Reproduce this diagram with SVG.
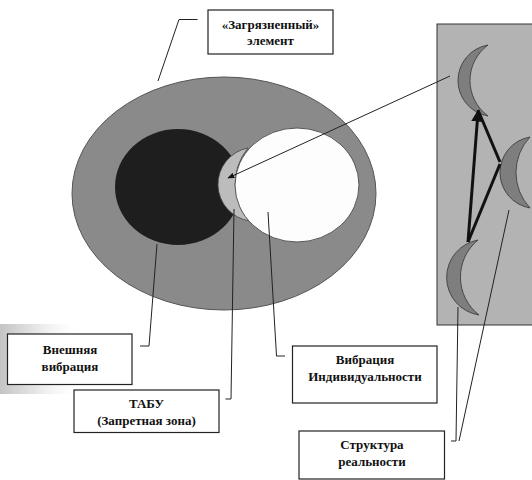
<svg xmlns="http://www.w3.org/2000/svg" width="532" height="480" viewBox="0 0 532 480">
<defs>
<style>
.box{fill:#fff;stroke:#222;stroke-width:1.2}
text{font-family:'Liberation Serif','DejaVu Serif',serif;font-weight:bold;font-size:13px;fill:#111;text-anchor:middle}
.lead{fill:none;stroke:#222;stroke-width:1}
.cres{fill:#7e7e7e;stroke:#333;stroke-width:0.8}
</style>
<marker id="ah" viewBox="0 0 10 10" refX="9" refY="5" markerWidth="7" markerHeight="7" orient="auto" markerUnits="userSpaceOnUse">
<path d="M0,1 L10,5 L0,9 Z" fill="#111"/>
</marker>
<marker id="ah2" viewBox="0 0 10 10" refX="8" refY="5" markerWidth="4" markerHeight="4" orient="auto">
<path d="M0,0 L10,5 L0,10 Z" fill="#111"/>
</marker>
<linearGradient id="shade" x1="0" y1="0" x2="1" y2="0">
<stop offset="0" stop-color="#c4c4c4"/>
<stop offset="0.3" stop-color="#ececec"/>
<stop offset="0.6" stop-color="#fff" stop-opacity="0"/>
</linearGradient>
</defs>
<rect width="532" height="480" fill="#fff"/>

<g id="main-ellipse">
<ellipse cx="224" cy="193.5" rx="152" ry="116.5" fill="#8a8a8a" stroke="#555" stroke-width="1"/>
</g>
<g id="dark-ellipse">
<ellipse cx="178" cy="187" rx="63" ry="58" fill="#1e1e1e"/>
</g>
<g id="taboo-crescent">
<path d="M248,148 A37,37 0 0,0 250,221 A62,58 0 0,1 248,148 Z" fill="#bcbcbc" stroke="#444" stroke-width="0.8"/>
</g>
<g id="white-ellipse">
<ellipse cx="297" cy="185" rx="62" ry="57" fill="#fdfdfd" stroke="#555" stroke-width="1"/>
</g>

<g id="reality-panel">
<rect x="437" y="24" width="110" height="301" fill="#b3b3b3" stroke="#333" stroke-width="1"/>
<path class="cres" d="M488,45 A36,36 0 0,0 488,116 A44,44 0 0,1 488,45 Z"/>
<path class="cres" d="M530,137 A36,36 0 0,0 530,208 A52,52 0 0,1 530,137 Z"/>
<path class="cres" d="M478,240 A38,38 0 0,0 479,315 A48,48 0 0,1 478,240 Z"/>
</g>

<g id="connectors">
<line x1="450" y1="76" x2="228" y2="178" stroke="#222" stroke-width="1" marker-end="url(#ah)"/>
<line x1="478" y1="110" x2="500" y2="162" stroke="#111" stroke-width="3"/>
<line x1="500" y1="164" x2="468" y2="242" stroke="#111" stroke-width="3"/>
<line x1="468" y1="242" x2="478" y2="112" stroke="#111" stroke-width="3" marker-end="url(#ah2)"/>
<polyline class="lead" points="197.5,19.5 179,19.5 158,81"/>
<polyline class="lead" points="157,244 149,346 140,346"/>
<polyline class="lead" points="234,209 231,399 225.5,399"/>
<polyline class="lead" points="268,212 276.5,356 285,356"/>
<polyline class="lead" points="458,307 456,441 451,441"/>
<line class="lead" x1="509" y1="210" x2="459" y2="441"/>
</g>

<g id="box-polluted">
<rect class="box" x="208" y="10" width="125" height="44"/>
<text x="270.5" y="28.5" font-family="Liberation Serif, serif">«Загрязненный»</text>
<text x="270.5" y="44.5" font-family="Liberation Serif, serif">элемент</text>
</g>
<g id="box-external">
<rect x="0" y="324" width="140" height="70" fill="url(#shade)"/>
<rect class="box" x="7.5" y="334" width="124.5" height="50.5"/>
<text x="70" y="354" font-family="Liberation Serif, serif">Внешняя</text>
<text x="70" y="371" font-family="Liberation Serif, serif">вибрация</text>
</g>
<g id="box-taboo">
<rect class="box" x="74" y="390" width="145" height="42.5"/>
<text x="146.5" y="408" font-family="Liberation Serif, serif">ТАБУ</text>
<text x="146.5" y="425" font-family="Liberation Serif, serif">(Запретная зона)</text>
</g>
<g id="box-individual">
<rect class="box" x="292.5" y="346" width="144.5" height="57"/>
<text x="365" y="364" font-family="Liberation Serif, serif">Вибрация</text>
<text x="365" y="381" font-family="Liberation Serif, serif">Индивидуальности</text>
</g>
<g id="box-reality">
<rect class="box" x="299" y="431" width="145.5" height="48"/>
<text x="372" y="448.5" font-family="Liberation Serif, serif">Структура</text>
<text x="372" y="465.5" font-family="Liberation Serif, serif">реальности</text>
</g>
</svg>
